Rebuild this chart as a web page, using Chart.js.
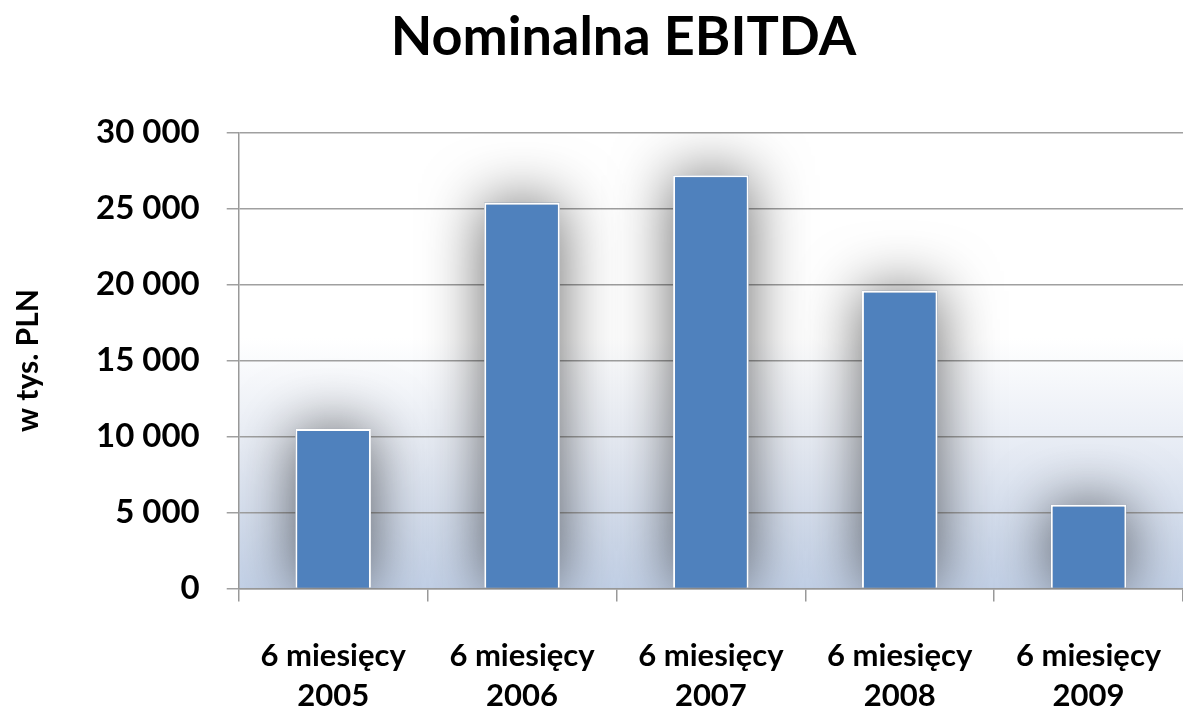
<!DOCTYPE html>
<html>
<head>
<meta charset="utf-8">
<script src="https://cdn.jsdelivr.net/npm/chart.js@4.4.1/dist/chart.umd.min.js"></script>
<style>
  html, body { margin: 0; padding: 0; background: #fff; }
  #wrap { width: 1183px; height: 714px; }
</style>
</head>
<body>
<div id="wrap"><canvas id="chart-ebitda"></canvas></div>
<script>
// dane z wykresu (w tys. PLN)
const categories = [
  ['6 miesięcy', '2005'],
  ['6 miesięcy', '2006'],
  ['6 miesięcy', '2007'],
  ['6 miesięcy', '2008'],
  ['6 miesięcy', '2009'],
];
const ebitda = [10500, 25400, 27200, 19600, 5500];
const yTicks = [0, 5000, 10000, 15000, 20000, 25000, 30000];

function formatPl(v) {
  return String(v).replace(/\B(?=(\d{3})+(?!\d))/g, ' ');
}

// tło obszaru wykresu (biały -> jasnoniebieski)
const plotBackground = {
  id: 'plotBackground',
  beforeDraw(chart) {
    const { ctx, chartArea: a } = chart;
    const g = ctx.createLinearGradient(0, a.top, 0, a.bottom);
    g.addColorStop(0, '#ffffff');
    g.addColorStop(0.45, '#ffffff');
    g.addColorStop(0.7, '#e6ebf4');
    g.addColorStop(1, '#c3d1e7');
    ctx.save();
    ctx.fillStyle = g;
    ctx.fillRect(a.left, a.top, a.right - a.left, a.bottom - a.top);
    ctx.restore();
  }
};

// cień wokół słupków (rysowany pod słupkami, z pozycji elementów)
const barShadow = {
  id: 'barShadow',
  beforeDatasetsDraw(chart) {
    const ctx = chart.ctx;
    const a = chart.chartArea;
    const meta = chart.getDatasetMeta(0);
    ctx.save();
    ctx.beginPath();
    ctx.rect(a.left, a.top, a.right - a.left, a.bottom - a.top);
    ctx.clip();
    ctx.shadowColor = 'rgba(0,0,0,0.6)';
    ctx.shadowBlur = 60;
    ctx.fillStyle = '#7f8fa6';
    meta.data.forEach(bar => {
      const p = bar.getProps(['x', 'y', 'base', 'width'], true);
      ctx.fillRect(p.x - p.width / 2, p.y, p.width, p.base - p.y);
    });
    ctx.restore();
  }
};

const ctx = document.getElementById('chart-ebitda').getContext('2d');
new Chart(ctx, {
  type: 'bar',
  data: {
    labels: categories,
    datasets: [{
      label: 'EBITDA',
      data: ebitda,
      backgroundColor: '#4f81bd',
      borderColor: '#ffffff',
      borderWidth: 2,
      categoryPercentage: 0.4,
      barPercentage: 1.0,
    }],
  },
  options: {
    responsive: true,
    maintainAspectRatio: false,
    animation: false,
    layout: { padding: { left: 64, right: 0, top: 0, bottom: -19 } },
    plugins: {
      legend: { display: false },
      tooltip: { enabled: false },
      title: {
        display: true,
        text: 'Nominalna EBITDA',
        color: '#000',
        font: { family: 'Lato', size: 54, weight: 'bold', lineHeight: 1.2 },
        padding: { top: 5, bottom: 63 },
      },
    },
    scales: {
      x: {
        grid: {
          display: true,
          drawOnChartArea: false,
          drawTicks: true,
          tickLength: 30,
          tickBorderDash: [12, 100],
          color: '#999',
          lineWidth: 1.5,
          offset: true,
        },
        border: { color: '#999', width: 1.5 },
        ticks: {
          color: '#000',
          font: { family: 'Lato', size: 31, weight: 'bold', lineHeight: 1.3 },
          padding: 17,
          maxRotation: 0,
          autoSkip: false,
        },
      },
      y: {
        min: 0,
        max: 30000,
        afterBuildTicks(axis) {
          axis.ticks = yTicks.map(v => ({ value: v }));
        },
        grid: {
          color: '#a0a0a0',
          lineWidth: 1.5,
          tickLength: 12,
        },
        border: { color: '#999', width: 1.5 },
        ticks: {
          color: '#000',
          font: { family: 'Lato', size: 33, weight: 'bold' },
          padding: 27,
          callback: v => formatPl(v),
        },
        title: {
          display: true,
          text: 'w tys. PLN',
          color: '#000',
          font: { family: 'Lato', size: 30, weight: 'bold', lineHeight: 1.2 },
          padding: { top: -54, bottom: 23 },
        },
      },
    },
  },
  plugins: [plotBackground, barShadow],
});
</script>
</body>
</html>
